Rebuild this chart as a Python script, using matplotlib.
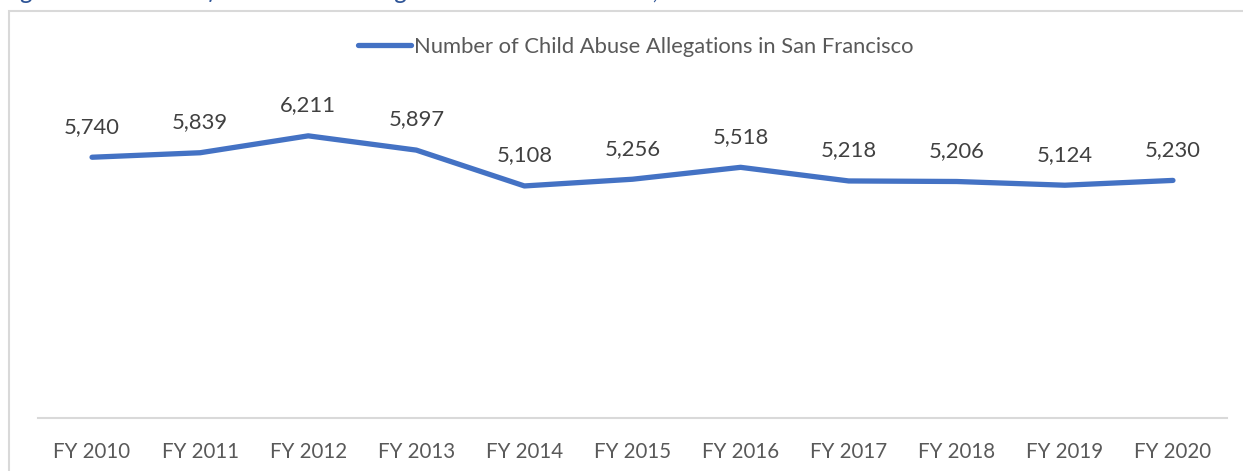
import matplotlib
matplotlib.use('Agg')
import matplotlib.pyplot as plt
from matplotlib.patches import Rectangle

#%% Data

years = ['FY 2010', 'FY 2011', 'FY 2012', 'FY 2013', 'FY 2014', 'FY 2015',
         'FY 2016', 'FY 2017', 'FY 2018', 'FY 2019', 'FY 2020']
allegations = [5740, 5839, 6211, 5897, 5108, 5256, 5518, 5218, 5206, 5124, 5230]
series_name = 'Number of Child Abuse Allegations in San Francisco'
fig_title = 'Figure 1: Number of Child Abuse Allegations in San Francisco, FY 2010 - FY 2020'

#%% Plot settings

plt.rcParams['font.family'] = ['Lato', 'DejaVu Sans']
W, H = 1243, 471
line_color = '#4472C4'

fig = plt.figure(figsize=(W / 100, H / 100), dpi=100)

# outer chart frame (partly cut off like the screenshot)
fig.patches.append(Rectangle((9 / W, -0.05), 1.2, 1 - 10.5 / H + 0.05,
                             transform=fig.transFigure, fill=False,
                             edgecolor='#D9D9D9', linewidth=1.5))

# title, mostly cropped above the image (as in the screenshot)
fig.text(2 / W, 1 + 0.5 / H, fig_title, color='#2F5597', style='italic',
         fontsize=18.5, ha='left', va='baseline')

ax = fig.add_axes([38 / W, (H - 418) / H, (1227 - 38) / W, (418 - 100) / H])
x = list(range(len(years)))
ln, = ax.plot(x, allegations, color=line_color, linewidth=3.8,
              solid_capstyle='round', solid_joinstyle='round', label=series_name)

for xi, v in zip(x, allegations):
    ax.annotate(f'{v:,}', (xi, v), xytext=(0, 22), textcoords='offset points',
                ha='center', va='center', fontsize=15.8, color='#404040')

ax.set_xlim(-0.5, len(years) - 0.5)
ax.set_ylim(0, 7000)
ax.set_xticks(x)
ax.set_xticklabels(years, fontsize=14.8, color='#595959')
ax.tick_params(axis='x', length=0, pad=17)
ax.set_yticks([])
for side in ['top', 'right', 'left']:
    ax.spines[side].set_visible(False)
ax.spines['bottom'].set_color('#D9D9D9')
ax.spines['bottom'].set_linewidth(1.5)

leg = fig.legend(handles=[ln], loc='center', bbox_to_anchor=(636 / W, 1 - 47 / H),
                 frameon=False, fontsize=15.8, handlelength=2.4, handletextpad=0.15)
for t in leg.get_texts():
    t.set_color('#595959')

fig.savefig('out.png', dpi=100)
